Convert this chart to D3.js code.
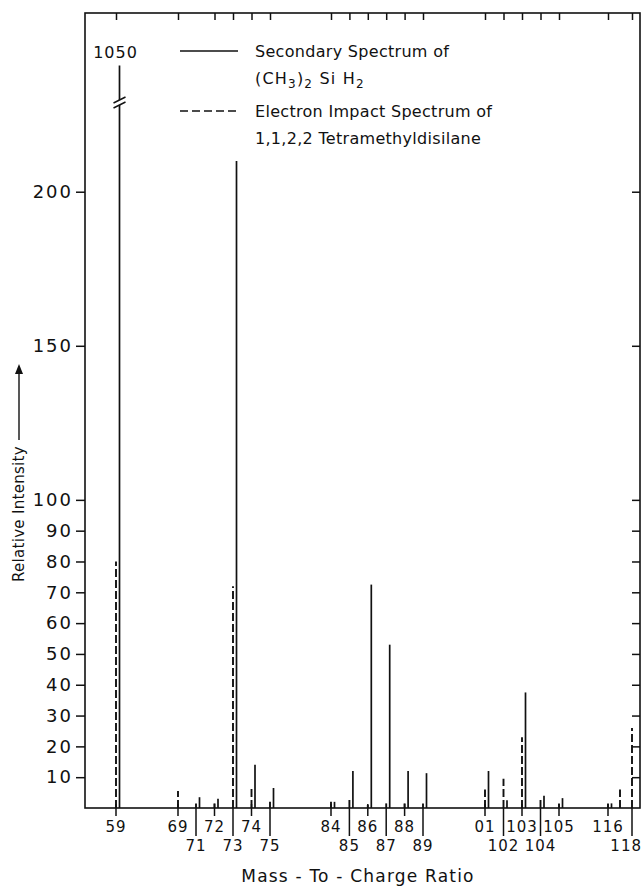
<!DOCTYPE html>
<html><head><meta charset="utf-8">
<script src="https://cdn.jsdelivr.net/npm/d3@7"></script>
<style>body{margin:0;background:#fff}</style>
</head><body>
<svg id="c" width="643" height="886"></svg>
<script>
// ---------- data ----------
const massValues      = [59, 69, 71, 72, 73, 74, 75, 84, 85, 86, 87, 88, 89, 101, 102, 103, 104, 105, 116, 117, 118];
const secondary       = [1050, 0, 3.5, 3, 210, 14, 6.5, 2, 12, 72.5, 53, 12, 11.3, 12, 2.5, 37.5, 4, 3.2, 1.5, 0, 0];
const electronImpact  = [80, 5.5, 1.5, 1.5, 72, 6.5, 2, 2, 3, 1, 1.5, 1.5, 1.5, 6, 9.5, 23, 3, 1.5, 1.5, 6, 26];
const tickMasses      = [59, 69, 71, 72, 73, 74, 75, 84, 85, 86, 87, 88, 89, 101, 102, 103, 104, 105, 116, 118];
const tickLabels      = ["59","69","71","72","73","74","75","84","85","86","87","88","89","01","102","103","104","105","116","118"];
const tickRow         = [1, 1, 2, 1, 2, 1, 2, 1, 2, 1, 2, 1, 2, 1, 2, 1, 2, 1, 1, 2];
const topTickMasses   = [59, 69, 72, 73, 74, 75, 84, 85, 86, 87, 88, 89, 101, 102, 103, 104, 105, 116, 118];
const yTicks          = [10, 20, 30, 40, 50, 60, 70, 80, 90, 100, 150, 200];
const legendLabels    = ["Secondary Spectrum of", "Electron Impact Spectrum of", "1,1,2,2 Tetramethyldisilane"];
const offScaleLabel   = "1050";
const xTitle = "Mass - To - Charge Ratio";
const yTitle = "Relative Intensity";

// ---------- layout ----------
const L = 85, R = 640, T = 13, B = 808, W = 643;
const FONT = "'DejaVu Sans', sans-serif";
const svg = d3.select("#c");

// broken (polylinear) mass axis
const x = d3.scaleLinear()
  .domain([59, 69, 71, 75, 84, 89, 101, 105, 116, 118])
  .range([116, 178, 196, 270, 331, 423, 485, 559, 608, 632]);
const yMax = 258;
const y = d3.scaleLinear().domain([0, yMax]).range([B, T]);
const capValue = 241;  // where off-scale bar is cut for its label

// frame
svg.append("rect").attr("x", L).attr("y", T).attr("width", R - L).attr("height", B - T)
  .attr("fill", "none").attr("stroke", "#111").attr("stroke-width", 1.6);

// left axis
const yAxisL = d3.axisLeft(y).tickValues(yTicks).tickSize(9).tickPadding(3).tickFormat(d3.format("d"));
const gL = svg.append("g").attr("transform", `translate(${L},0)`).call(yAxisL);
gL.select(".domain").remove();
gL.selectAll("line").attr("stroke", "#111").attr("stroke-width", 1.5);
gL.selectAll("text").attr("font-family", FONT).attr("font-size", 18).attr("letter-spacing", 2)
  .attr("fill", "#111");

// right axis ticks (inward)
const gR = svg.append("g").attr("transform", `translate(${R},0)`)
  .call(d3.axisLeft(y).tickValues(yTicks).tickSize(8).tickFormat(""));
gR.select(".domain").remove();
gR.selectAll("line").attr("stroke", "#111").attr("stroke-width", 1.5);

// top axis ticks (inward)
const gT = svg.append("g").attr("transform", `translate(0,${T})`)
  .call(d3.axisBottom(x).tickValues(topTickMasses).tickSize(7).tickFormat(""));
gT.select(".domain").remove();
gT.selectAll("line").attr("stroke", "#111").attr("stroke-width", 1.5);

// bottom axis: two rows of ticks/labels
const bt = tickMasses.map((m, i) => ({m, label: tickLabels[i], row: tickRow[i]}));
const gB = svg.append("g");
gB.selectAll("line.tk").data(bt).join("line").attr("class", "tk")
  .attr("x1", d => x(d.m)).attr("x2", d => x(d.m))
  .attr("y1", d => d.row === 1 ? B - 4 : B)
  .attr("y2", d => d.row === 1 ? B + 8 : B + 28)
  .attr("stroke", "#111").attr("stroke-width", 1.5);
gB.selectAll("text").data(bt).join("text")
  .attr("x", d => x(d.m)).attr("y", d => d.row === 1 ? 832 : 851)
  .attr("text-anchor", "middle").attr("font-family", FONT).attr("font-size", 15)
  .attr("letter-spacing", 1).attr("fill", "#111").text(d => d.label)
  .each(function() {
    const w = this.getComputedTextLength();
    const cx = +this.getAttribute("x");
    if (cx + w / 2 > W - 1) this.setAttribute("x", W - 1 - w / 2);
  });

// bars
const rows = massValues.map((m, i) => ({m, s: secondary[i], e: electronImpact[i]}));
svg.append("g").selectAll("line").data(rows.filter(d => d.e > 0)).join("line")
  .attr("x1", d => x(d.m)).attr("x2", d => x(d.m))
  .attr("y1", y(0)).attr("y2", d => y(d.e))
  .attr("stroke", "#111").attr("stroke-width", 1.9).attr("stroke-dasharray", "8,3");
svg.append("g").selectAll("line").data(rows.filter(d => d.s > 0)).join("line")
  .attr("x1", d => x(d.m) + 3.5).attr("x2", d => x(d.m) + 3.5)
  .attr("y1", y(0)).attr("y2", d => y(Math.min(d.s, capValue)))
  .attr("stroke", "#111").attr("stroke-width", 1.7);

// off-scale bar label and break marks
const off = rows.filter(d => d.s > yMax);
off.forEach(d => {
  const bx = x(d.m) + 3.5, by = 103;
  svg.append("text").attr("x", bx - 4).attr("y", y(capValue) - 7).attr("text-anchor", "middle")
    .attr("font-family", FONT).attr("font-size", 16).attr("letter-spacing", 1).attr("fill", "#111")
    .text(offScaleLabel);
  svg.append("rect").attr("x", bx - 3).attr("y", by - 3).attr("width", 6).attr("height", 5).attr("fill", "#fff");
  [-3, 2].forEach(o => svg.append("line")
    .attr("x1", bx - 6).attr("y1", by + o + 3).attr("x2", bx + 6).attr("y2", by + o - 3)
    .attr("stroke", "#111").attr("stroke-width", 1.5));
});

// legend
const lg = svg.append("g").attr("font-family", FONT).attr("font-size", 16).attr("letter-spacing", 0.3).attr("fill", "#111");
const rowY = [57, 84, 117, 144];
lg.append("line").attr("x1", 180).attr("x2", 238).attr("y1", rowY[0] - 6).attr("y2", rowY[0] - 6)
  .attr("stroke", "#111").attr("stroke-width", 1.6);
lg.append("text").attr("x", 255).attr("y", rowY[0]).text(legendLabels[0]);
const f = lg.append("text").attr("x", 255).attr("y", rowY[1]).attr("letter-spacing", 1.2);
f.append("tspan").text("(CH");
f.append("tspan").attr("dy", 4).attr("font-size", 12).text("3");
f.append("tspan").attr("dy", -4).text(")");
f.append("tspan").attr("dy", 4).attr("font-size", 12).text("2");
f.append("tspan").attr("dy", -4).text(" Si H");
f.append("tspan").attr("dy", 4).attr("font-size", 12).text("2");
lg.append("line").attr("x1", 180).attr("x2", 240).attr("y1", rowY[2] - 6).attr("y2", rowY[2] - 6)
  .attr("stroke", "#111").attr("stroke-width", 1.6).attr("stroke-dasharray", "8,4");
lg.append("text").attr("x", 255).attr("y", rowY[2]).text(legendLabels[1]);
lg.append("text").attr("x", 255).attr("y", rowY[3]).text(legendLabels[2]);

// axis titles
svg.append("text").attr("x", 358).attr("y", 882).attr("text-anchor", "middle")
  .attr("font-family", FONT).attr("font-size", 17).attr("letter-spacing", 1.2).attr("fill", "#111").text(xTitle);
const yt = svg.append("g").attr("transform", "translate(24,582) rotate(-90)");
yt.append("text").attr("x", 0).attr("y", 0).attr("font-family", FONT).attr("font-size", 15)
  .attr("letter-spacing", 0.3).attr("fill", "#111").text(yTitle);
yt.append("line").attr("x1", 142).attr("x2", 212).attr("y1", -5).attr("y2", -5).attr("stroke", "#111").attr("stroke-width", 1.4);
yt.append("path").attr("d", "M218,-5 L208,-9 L208,-1 Z").attr("fill", "#111");
</script>
</body></html>
